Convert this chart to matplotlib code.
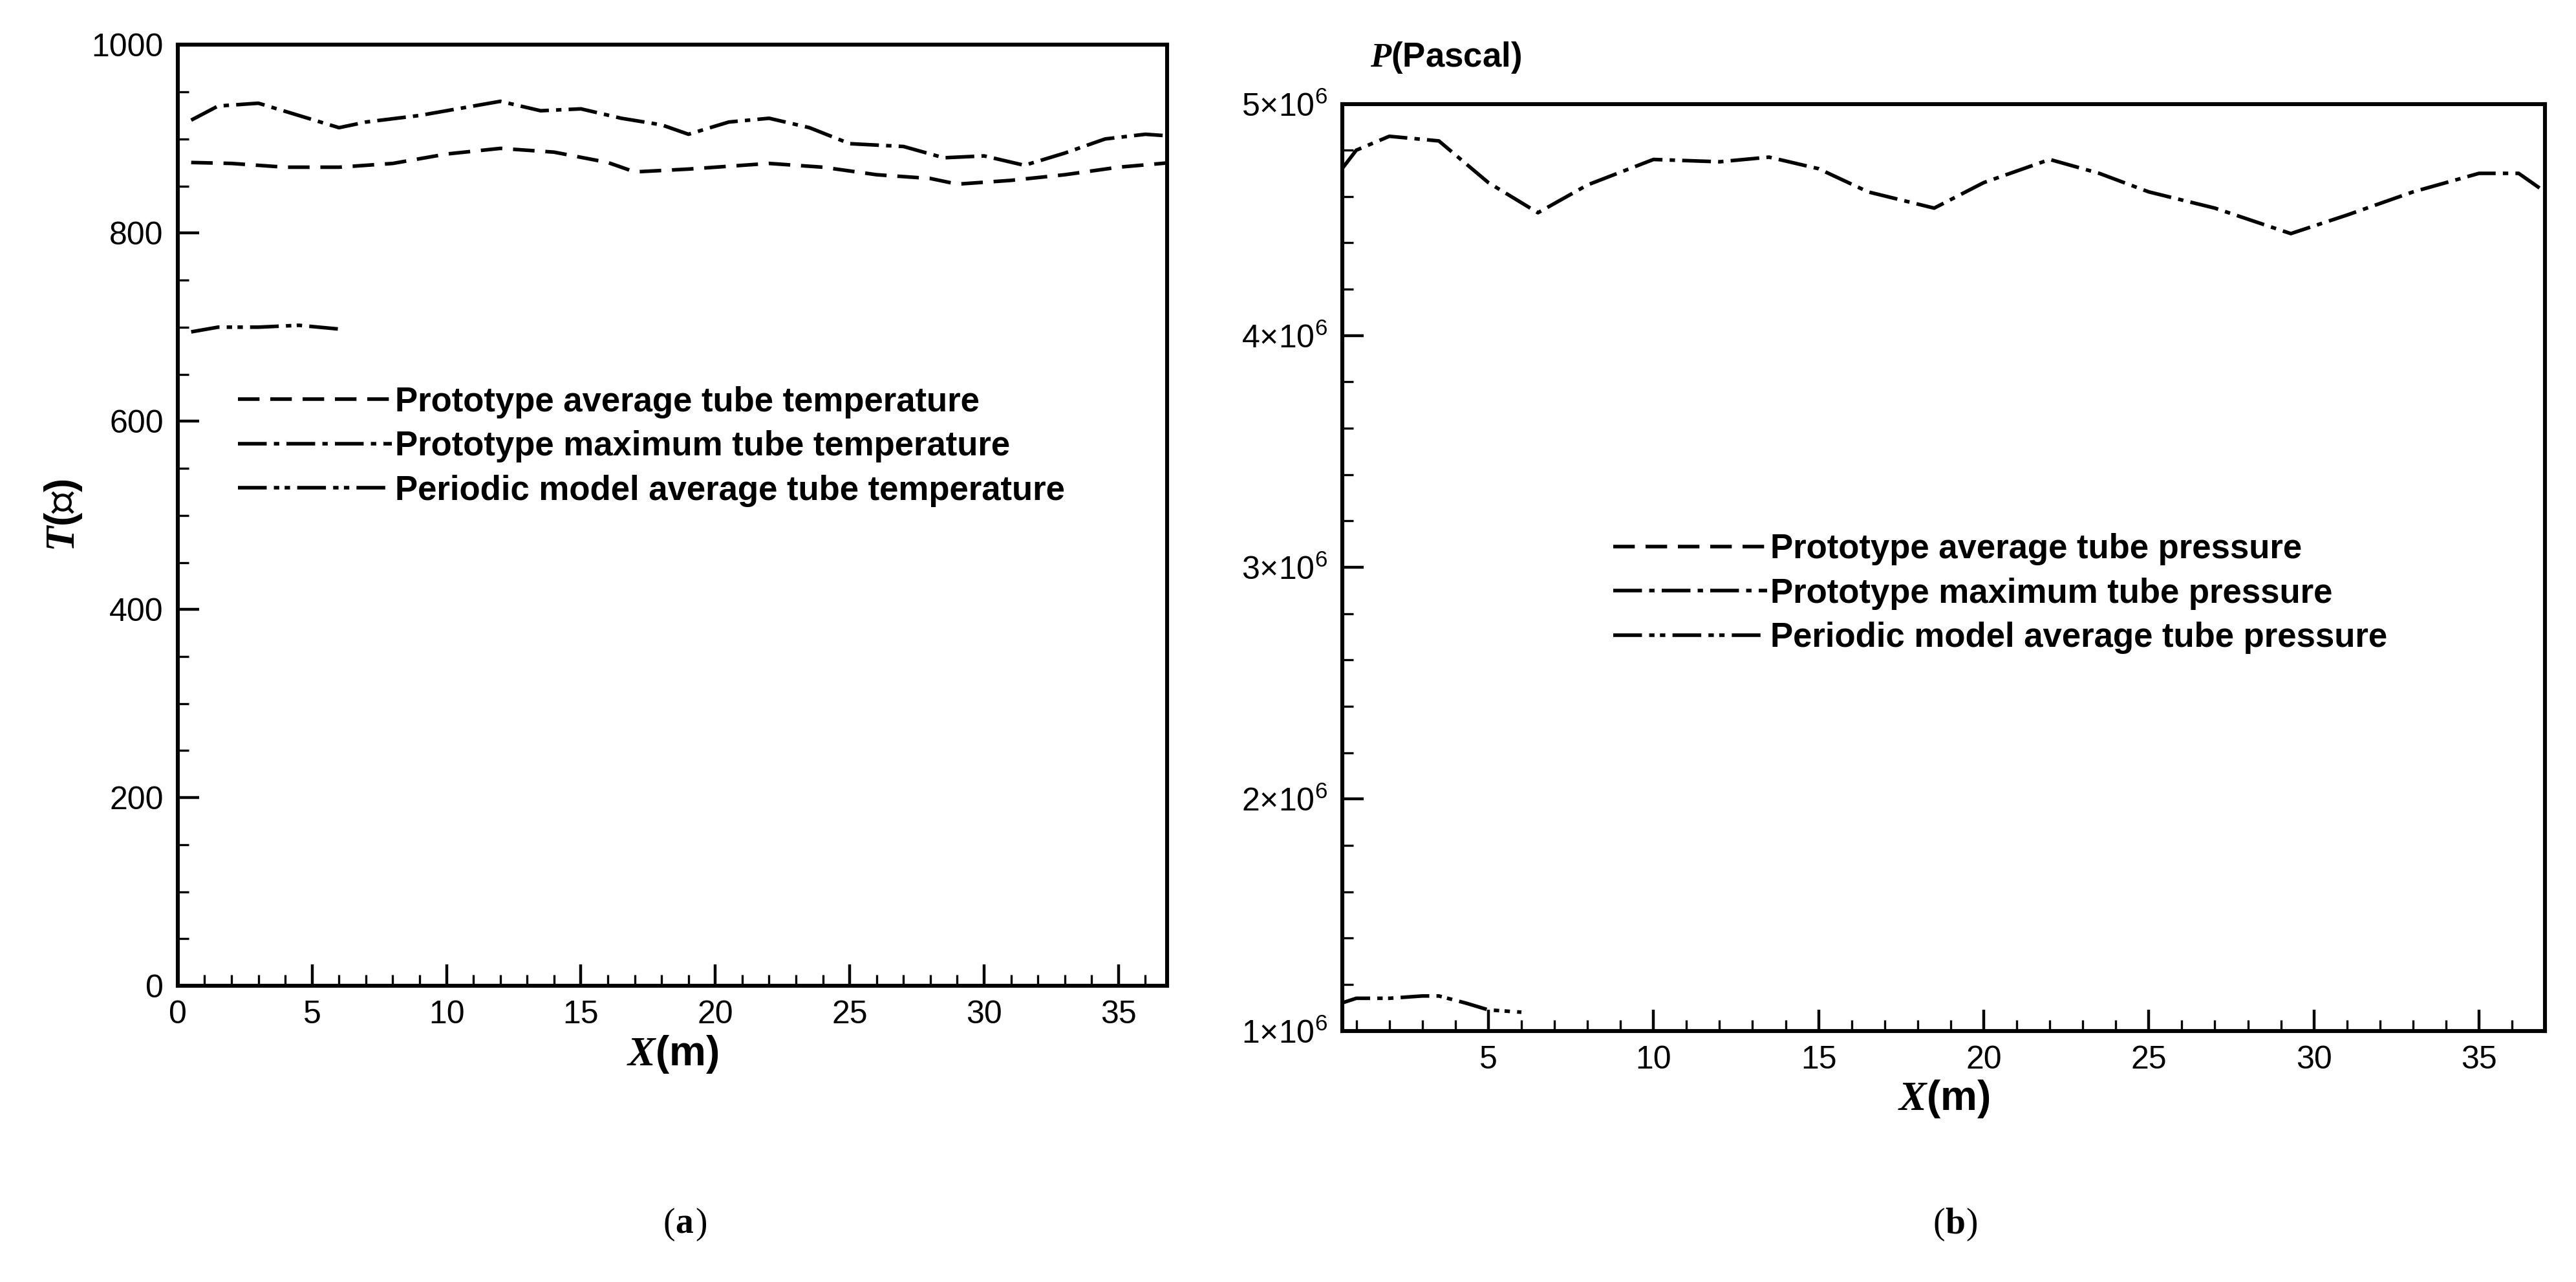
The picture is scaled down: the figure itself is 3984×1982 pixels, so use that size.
import matplotlib
matplotlib.use("Agg")
import matplotlib.pyplot as plt
from matplotlib.ticker import MultipleLocator, FixedLocator
from matplotlib.lines import Line2D

plt.rcParams['font.family'] = ['Liberation Sans', 'DejaVu Sans']
plt.rcParams['mathtext.fontset'] = 'custom'
plt.rcParams['mathtext.bf'] = 'Liberation Serif:bold:italic'
plt.rcParams['mathtext.rm'] = 'Liberation Sans'

# Panel (a) data
xa_avg = [0.5, 2, 4, 6, 8, 10, 12, 14, 16, 17, 19, 22, 24, 26, 28, 29, 31, 33, 35, 37]
ya_avg = [875, 874, 870, 870, 874, 884, 890, 886, 875, 865, 868, 874, 870, 862, 858, 852, 856, 862, 870, 875]
xa_max = [0.5, 1.5, 3, 4.5, 6, 7, 9, 11, 12, 13.5, 15, 16.5, 18, 19, 20.5, 22, 23.5, 25, 27, 28.5, 30, 31.5, 33, 34.5, 36, 37]
ya_max = [920, 935, 938, 925, 912, 918, 925, 935, 940, 930, 932, 922, 915, 905, 918, 922, 912, 895, 892, 880, 882, 872, 885, 900, 905, 903]
xa_per = [0.5, 1.5, 3, 4.5, 6]
ya_per = [695, 700, 700, 702, 698]

# Panel (b) data
xb_max = [0.57, 1, 2, 3.5, 5, 6.5, 8, 10, 12, 13.5, 15, 16.5, 18.5, 20, 22, 23.5, 25, 27, 29.3, 31, 33, 35, 36.2, 37]
yb_max = [4.72e6, 4.8e6, 4.86e6, 4.84e6, 4.66e6, 4.53e6, 4.65e6, 4.76e6, 4.75e6, 4.77e6, 4.72e6, 4.62e6, 4.55e6, 4.66e6, 4.76e6, 4.7e6, 4.62e6, 4.55e6, 4.44e6, 4.52e6, 4.62e6, 4.7e6, 4.7e6, 4.62e6]
xb_per = [0.57, 1, 2, 3, 3.5, 4.3, 5, 6]
yb_per = [1.12e6, 1.14e6, 1.14e6, 1.15e6, 1.15e6, 1.12e6, 1.09e6, 1.08e6]

labels_a = ["Prototype average tube temperature", "Prototype maximum tube temperature",
            "Periodic model average tube temperature"]
labels_b = ["Prototype average tube pressure", "Prototype maximum tube pressure",
            "Periodic model average tube pressure"]
yticks_b = [1e6, 2e6, 3e6, 4e6, 5e6]
yticklabels_b = ["1×10$^6$", "2×10$^6$", "3×10$^6$", "4×10$^6$", "5×10$^6$"]

styles = [(0, (6, 3)), (0, (8, 2, 1.5, 2)), (0, (8, 2, 1.5, 1.5, 1.5, 2))]
lw = 2.0

fig = plt.figure(figsize=(19.92, 9.91), dpi=200)
axa = fig.add_axes([0.069, 0.231, 0.384, 0.734])
axb = fig.add_axes([0.521, 0.196, 0.467, 0.723])

axa.plot(xa_avg, ya_avg, color='black', lw=lw, ls=styles[0])
axa.plot(xa_max, ya_max, color='black', lw=lw, ls=styles[1])
axa.plot(xa_per, ya_per, color='black', lw=lw, ls=styles[2])
axa.set_xlim(0, 36.8)
axa.set_ylim(0, 1000)
axa.xaxis.set_major_locator(MultipleLocator(5))
axa.xaxis.set_minor_locator(MultipleLocator(1))
axa.yaxis.set_major_locator(MultipleLocator(200))
axa.yaxis.set_minor_locator(MultipleLocator(50))

axb.plot(xb_max, yb_max, color='black', lw=lw, ls=styles[1])
axb.plot(xb_per, yb_per, color='black', lw=lw, ls=styles[2])
axb.set_xlim(0.57, 37)
axb.set_ylim(1e6, 5e6)
axb.xaxis.set_major_locator(FixedLocator([5, 10, 15, 20, 25, 30, 35]))
axb.xaxis.set_minor_locator(MultipleLocator(1))
axb.yaxis.set_major_locator(FixedLocator(yticks_b))
axb.yaxis.set_minor_locator(MultipleLocator(2e5))
axb.set_yticklabels(yticklabels_b)

for ax in (axa, axb):
    for s in ax.spines.values():
        s.set_linewidth(2.2)
    ax.tick_params(which='major', direction='in', length=12, width=1.6, labelsize=18, pad=8)
    ax.tick_params(which='minor', direction='in', length=6, width=1.2)

axa.set_xlabel(r"$\mathbf{X}$(m)", fontsize=23, fontweight='bold', labelpad=2)
axa.set_ylabel(r"$\mathbf{T}$(℃)", fontsize=23, fontweight='bold', labelpad=4)
axb.set_xlabel(r"$\mathbf{X}$(m)", fontsize=23, fontweight='bold', labelpad=2)
fig.text(0.532, 0.955, r"$\mathbf{P}$(Pascal)", fontsize=19, fontweight='bold',
         ha='left', va='center')

handles = [Line2D([], [], color='black', lw=lw, ls=st) for st in styles]
leg_a = axa.legend(handles, labels_a, loc='upper left', bbox_to_anchor=(0.03, 0.67),
                   frameon=False, fontsize=19, handlelength=4.5, handletextpad=0.1,
                   labelspacing=0.35)
leg_b = axb.legend(handles, labels_b, loc='upper left', bbox_to_anchor=(0.2, 0.57),
                   frameon=False, fontsize=19, handlelength=4.5, handletextpad=0.1,
                   labelspacing=0.35)
for leg in (leg_a, leg_b):
    for t in leg.get_texts():
        t.set_fontweight('bold')

for xc, lab in ((0.262, "a"), (0.755, "b")):
    fig.text(xc, 0.045, "(", fontsize=20, family='Liberation Serif', ha='right', va='center')
    fig.text(xc, 0.045, lab, fontsize=20, family='Liberation Serif', fontweight='bold', ha='left', va='center')
    fig.text(xc + 0.008, 0.045, ")", fontsize=20, family='Liberation Serif', ha='left', va='center')

fig.savefig("out.png", dpi=200)
